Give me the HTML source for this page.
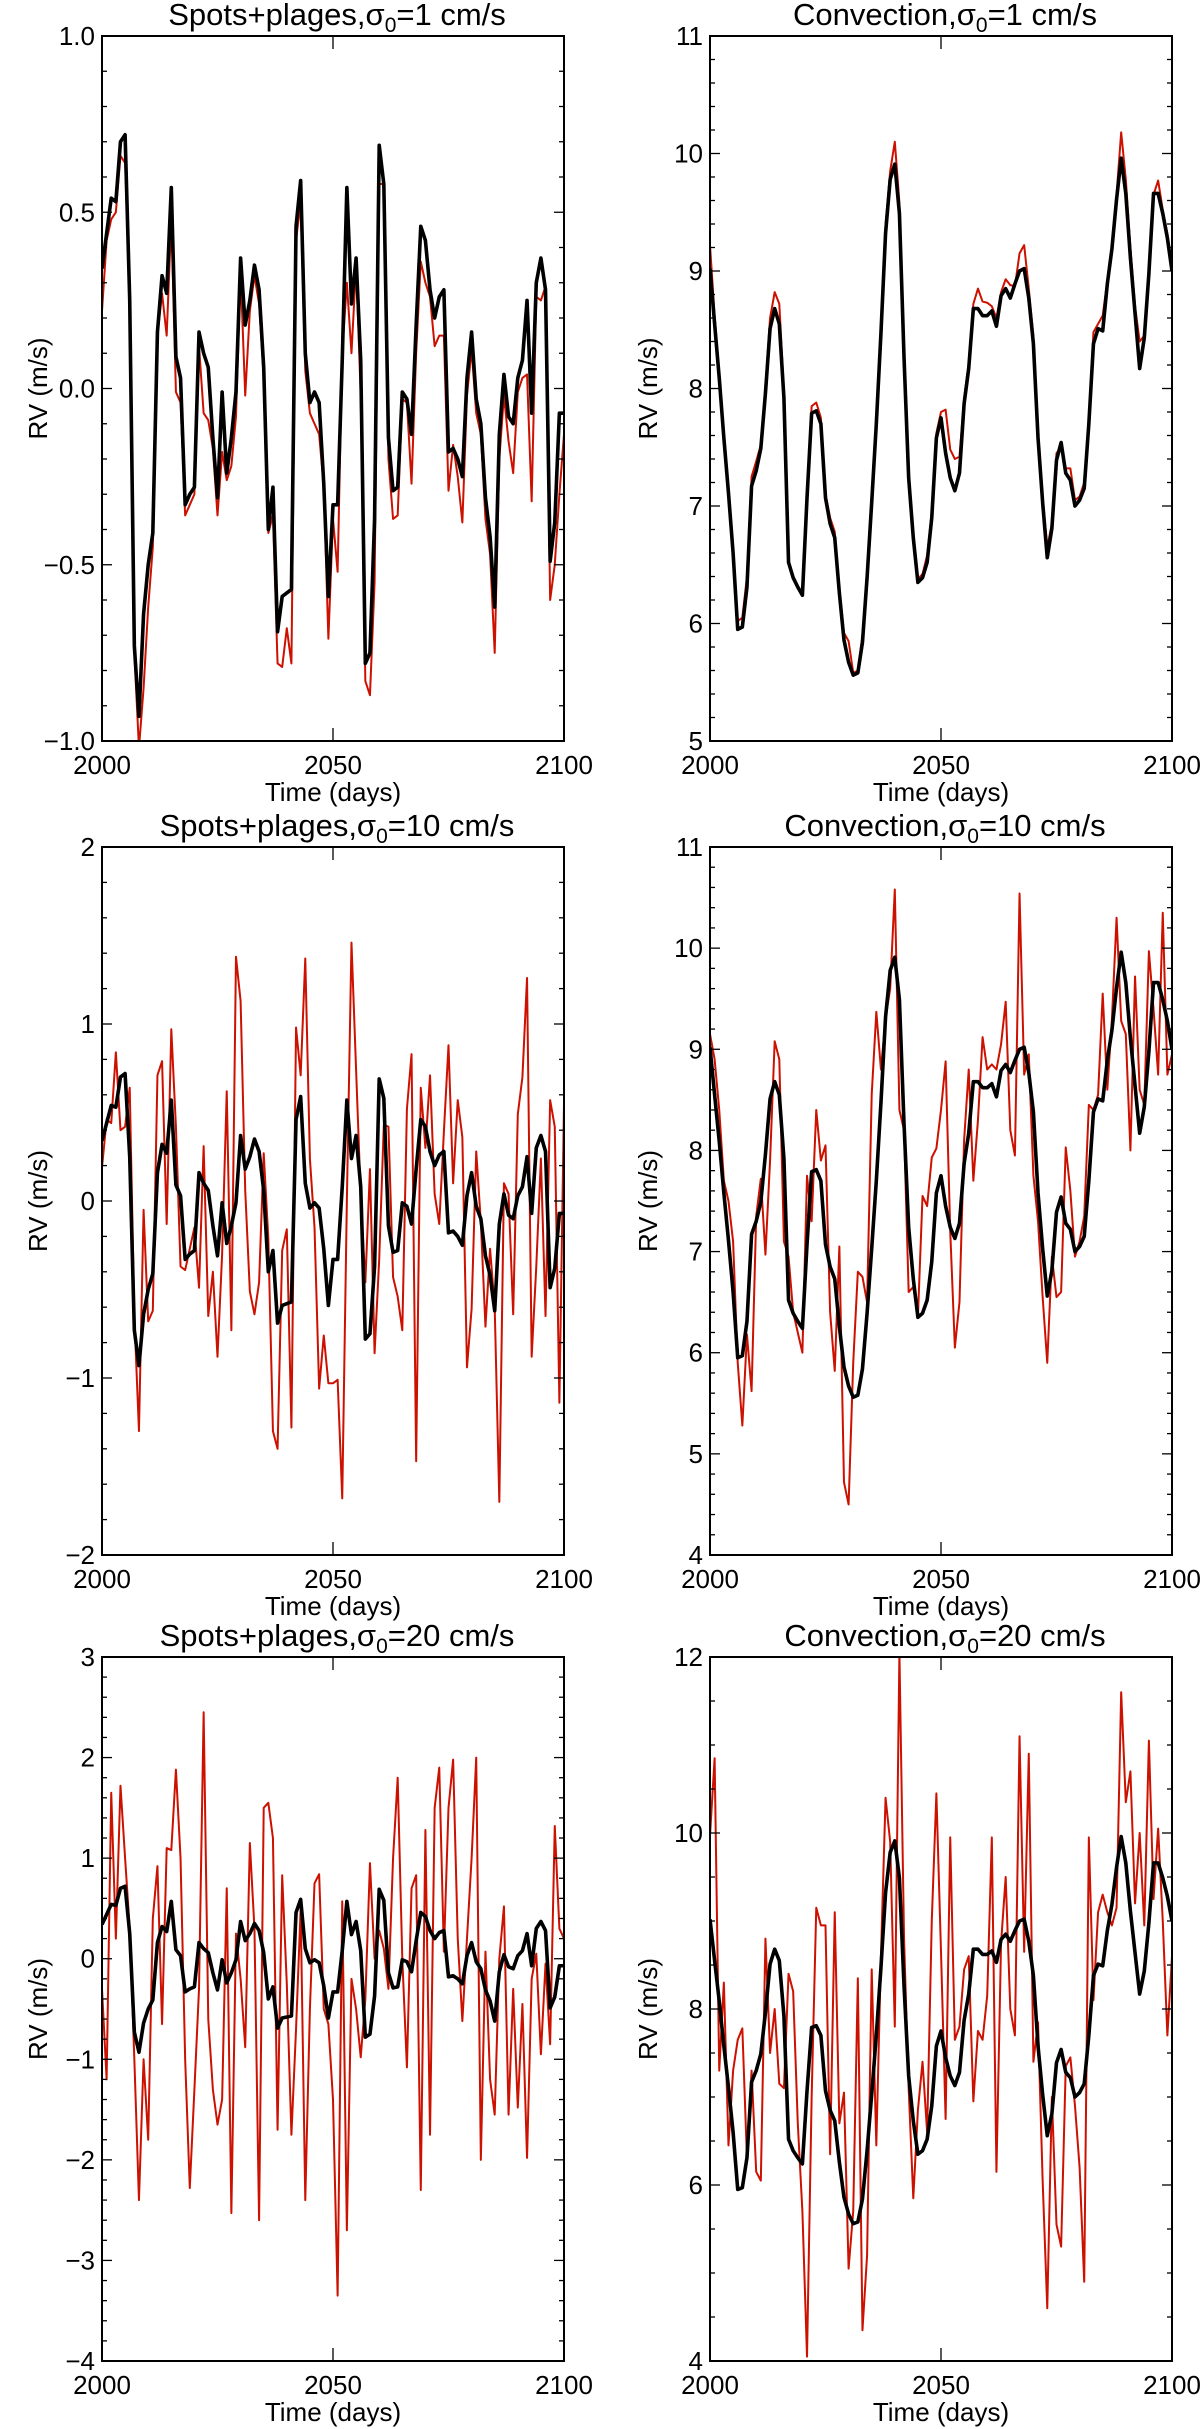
<!DOCTYPE html>
<html><head><meta charset="utf-8"><title>RV time series</title>
<style>
html,body{margin:0;padding:0;background:#fff;}
svg{display:block;}
text{font-family:"Liberation Sans",Arial,sans-serif;fill:#000;}
</style></head>
<body>
<svg id="fig" width="1200" height="2429" viewBox="0 0 1200 2429" xmlns="http://www.w3.org/2000/svg"></svg>
<script>
// ---- data (days 2000..2100) ----
const days = Array.from({length:101},(_,i)=>2000+i);
const spotsBlack = [0.34,0.44,0.54,0.53,0.70,0.72,0.25,-0.73,-0.93,-0.64,-0.50,-0.41,0.16,0.32,0.27,0.57,0.09,0.03,-0.33,-0.30,-0.28,0.16,0.10,0.06,-0.14,-0.31,-0.01,-0.24,-0.14,-0.01,0.37,0.18,0.25,0.35,0.28,0.06,-0.40,-0.28,-0.69,-0.59,-0.58,-0.57,0.46,0.59,0.10,-0.04,-0.01,-0.04,-0.27,-0.59,-0.33,-0.33,0.08,0.57,0.24,0.37,0.08,-0.78,-0.75,-0.37,0.69,0.58,-0.14,-0.29,-0.28,-0.01,-0.03,-0.13,0.18,0.46,0.42,0.28,0.20,0.26,0.28,-0.18,-0.17,-0.20,-0.25,0.03,0.16,-0.03,-0.10,-0.31,-0.42,-0.62,-0.13,0.04,-0.08,-0.10,0.03,0.08,0.25,-0.07,0.30,0.37,0.28,-0.49,-0.38,-0.07,-0.07];
const spotsRed1 = [0.22,0.42,0.48,0.50,0.66,0.64,0.25,-0.75,-1.02,-0.85,-0.62,-0.45,0.15,0.27,0.15,0.48,-0.01,-0.04,-0.36,-0.33,-0.30,0.12,-0.07,-0.09,-0.17,-0.36,-0.18,-0.26,-0.22,-0.08,0.33,-0.02,0.22,0.32,0.24,0.03,-0.41,-0.36,-0.78,-0.79,-0.68,-0.78,0.42,0.53,0.05,-0.07,-0.10,-0.13,-0.28,-0.71,-0.37,-0.52,0.10,0.30,0.10,0.35,-0.02,-0.83,-0.87,-0.55,0.58,0.58,-0.20,-0.37,-0.36,-0.03,-0.04,-0.27,0.10,0.36,0.30,0.26,0.12,0.15,0.15,-0.29,-0.16,-0.25,-0.38,-0.02,0.11,-0.07,-0.13,-0.37,-0.47,-0.75,-0.20,-0.02,-0.15,-0.24,-0.01,0.03,0.04,-0.32,0.26,0.25,0.29,-0.60,-0.50,-0.30,-0.13];
const spotsRed10 = [0.19,0.46,0.44,0.84,0.40,0.42,0.64,-0.65,-1.30,-0.05,-0.68,-0.62,0.71,0.79,-0.13,0.97,0.42,-0.37,-0.39,-0.27,-0.15,-0.49,0.31,-0.65,-0.40,-0.88,-0.30,0.62,-0.73,1.38,1.13,0.06,-0.51,-0.64,-0.46,0.27,-0.21,-1.30,-1.40,-0.28,-0.16,-1.28,0.98,0.71,1.37,0.24,-0.15,-1.06,-0.76,-1.03,-1.03,-1.01,-1.68,0.00,1.46,0.74,0.03,-0.46,0.18,-0.86,-0.33,0.43,0.42,-0.43,-0.54,-0.73,0.52,0.83,-1.47,0.64,0.30,0.71,0.04,-0.13,0.39,0.88,0.10,0.57,0.36,-0.94,-0.61,0.28,-0.12,-0.71,-0.27,-0.60,-1.70,0.10,0.04,-0.64,0.49,0.70,1.26,-0.88,-0.37,0.24,-0.65,0.57,0.42,-1.14,0.55];
const spotsRed20 = [-0.30,-1.20,1.65,0.20,1.72,1.00,0.30,-1.00,-2.40,-1.00,-1.80,0.40,0.92,-0.65,1.10,1.08,1.88,1.00,-1.00,-2.28,-1.30,-0.30,2.45,-0.60,-1.30,-1.65,-1.40,0.70,-2.53,0.25,-0.20,-0.88,1.15,0.30,-2.60,1.50,1.55,1.20,-1.70,0.83,-0.25,-1.75,-0.70,0.50,-2.40,-0.50,0.75,0.84,-0.50,-0.65,-1.40,-3.35,0.57,-2.70,-0.20,-0.50,-0.98,-0.40,0.95,0.00,0.28,0.10,-0.30,1.00,1.80,0.00,-1.08,0.70,0.83,-2.30,1.28,-1.75,1.50,1.90,0.07,1.50,1.98,0.20,-0.62,0.20,1.00,2.00,-2.00,0.07,-1.20,-1.55,0.00,0.52,-1.55,-0.30,-1.48,-0.45,-1.98,-0.20,0.05,-0.95,-0.05,-0.85,1.32,0.30,0.20];
const convBlack = [9.02,8.55,8.09,7.58,7.11,6.60,5.95,5.97,6.31,7.17,7.30,7.49,7.96,8.51,8.68,8.55,7.92,6.52,6.39,6.31,6.24,7.07,7.79,7.81,7.70,7.07,6.85,6.73,6.26,5.86,5.67,5.56,5.58,5.84,6.39,7.03,7.70,8.47,9.32,9.78,9.91,9.49,8.26,7.24,6.73,6.35,6.39,6.52,6.90,7.58,7.75,7.45,7.24,7.13,7.28,7.87,8.17,8.68,8.68,8.62,8.62,8.66,8.53,8.79,8.85,8.77,8.89,9.00,9.02,8.77,8.38,7.58,7.03,6.56,6.81,7.39,7.54,7.28,7.22,7.00,7.05,7.15,7.70,8.38,8.51,8.49,8.89,9.19,9.61,9.96,9.66,9.11,8.64,8.17,8.43,8.98,9.66,9.66,9.49,9.28,9.00];
const convRed1 = [9.22,8.62,8.12,7.60,7.12,6.62,6.02,6.05,6.40,7.25,7.38,7.52,8.02,8.60,8.82,8.72,7.98,6.52,6.40,6.32,6.26,7.10,7.85,7.88,7.75,7.10,6.90,6.78,6.30,5.92,5.85,5.58,5.60,5.90,6.45,7.08,7.75,8.52,9.40,9.85,10.10,9.58,8.30,7.28,6.76,6.38,6.42,6.58,6.95,7.62,7.80,7.82,7.48,7.40,7.42,7.92,8.22,8.72,8.85,8.74,8.73,8.70,8.60,8.82,8.93,8.88,8.87,9.15,9.22,8.85,8.45,7.62,7.08,6.65,6.85,7.45,7.50,7.32,7.32,7.05,7.08,7.20,7.75,8.48,8.55,8.62,8.92,9.22,9.65,10.18,9.78,9.20,8.70,8.40,8.45,9.02,9.65,9.77,9.52,9.32,9.05];
const convRed10 = [9.15,8.90,8.40,7.70,7.50,7.10,5.90,5.28,6.18,5.62,7.35,7.72,6.97,7.90,9.08,8.90,7.10,6.95,6.40,6.20,6.00,7.75,7.30,8.40,7.90,8.05,6.40,5.82,7.05,4.72,4.50,5.90,6.80,6.75,6.50,8.55,9.37,8.80,9.30,9.60,10.58,8.40,8.20,6.60,6.65,6.35,7.55,7.45,7.93,8.02,8.40,8.88,7.20,6.05,6.50,8.10,8.80,7.70,8.30,9.12,8.80,8.85,8.80,9.05,9.47,8.20,7.95,10.54,8.75,8.95,7.75,7.30,6.55,5.90,6.95,6.55,6.60,8.03,7.60,6.95,7.10,7.35,8.45,8.40,8.55,9.55,8.60,9.30,10.30,9.28,9.15,8.00,9.72,8.60,8.45,9.97,9.40,8.75,10.35,8.75,8.95];
const convRed20 = [9.97,10.85,7.30,8.30,6.45,7.30,7.65,7.78,6.30,7.30,6.15,6.05,8.80,7.50,8.00,7.15,7.10,8.40,8.20,6.70,5.70,4.05,7.00,9.15,8.95,8.95,6.35,9.10,6.70,7.05,5.05,5.70,8.35,4.35,5.20,8.45,6.45,8.60,10.40,9.90,7.80,12.05,8.80,7.10,5.85,6.85,7.40,6.60,9.00,10.45,8.65,6.75,9.95,7.65,7.80,8.45,8.60,6.95,7.75,7.65,8.15,9.95,6.15,8.75,9.50,8.00,7.70,11.10,8.65,10.90,7.40,7.85,6.05,4.60,7.00,5.55,5.30,7.35,7.45,6.90,6.20,4.90,9.95,8.10,9.10,9.30,9.10,8.95,9.15,11.60,10.35,10.70,9.20,10.00,8.95,11.05,9.25,10.05,9.00,7.70,8.60];
const xTicks = [2000,2050,2100];
const yTicks1L = ["-1.0","-0.5","0.0","0.5","1.0"];
const yTicks1R = [5,6,7,8,9,10,11];
const yTicks2L = [-2,-1,0,1,2];
const yTicks2R = [4,5,6,7,8,9,10,11];
const yTicks3L = [-4,-3,-2,-1,0,1,2,3];
const yTicks3R = [4,6,8,10,12];

const NS='http://www.w3.org/2000/svg';
const svg=document.getElementById('fig');
function mk(tag,attrs,parent){const e=document.createElementNS(NS,tag);for(const k in attrs)e.setAttribute(k,attrs[k]);(parent||svg).appendChild(e);return e;}

const cols=[{x0:102,x1:564,ylab:38},{x0:710,x1:1172,ylab:648}];
const rows=[{y0:36,y1:741},{y0:847,y1:1555},{y0:1657,y1:2361}];
const panels=[
 {r:0,c:0,kind:'Spots+plages',sig:'1',ymin:-1,ymax:1,ticks:yTicks1L,minor:0.1,black:spotsBlack,red:spotsRed1,name:'spots-1'},
 {r:0,c:1,kind:'Convection',sig:'1',ymin:5,ymax:11,ticks:yTicks1R,minor:0.2,black:convBlack,red:convRed1,name:'convection-1'},
 {r:1,c:0,kind:'Spots+plages',sig:'10',ymin:-2,ymax:2,ticks:yTicks2L,minor:0.2,black:spotsBlack,red:spotsRed10,name:'spots-10'},
 {r:1,c:1,kind:'Convection',sig:'10',ymin:4,ymax:11,ticks:yTicks2R,minor:0.2,black:convBlack,red:convRed10,name:'convection-10'},
 {r:2,c:0,kind:'Spots+plages',sig:'20',ymin:-4,ymax:3,ticks:yTicks3L,minor:0.2,black:spotsBlack,red:spotsRed20,name:'spots-20'},
 {r:2,c:1,kind:'Convection',sig:'20',ymin:4,ymax:12,ticks:yTicks3R,minor:0.5,black:convBlack,red:convRed20,name:'convection-20'}
];

panels.forEach(p=>{
  const C=cols[p.c],R=rows[p.r];
  const g=mk('g',{});
  
  
  const xs=v=>C.x0+(v-2000)/100*(C.x1-C.x0);
  const ys=v=>R.y1-(v-p.ymin)/(p.ymax-p.ymin)*(R.y1-R.y0);
  const clipId='clip-'+p.name;
  const cp=mk('clipPath',{id:clipId},g);
  mk('rect',{x:C.x0,y:R.y0,width:C.x1-C.x0,height:R.y1-R.y0},cp);
  // title
  const t=mk('text',{x:(C.x0+C.x1)/2+4,y:R.y0-11,'text-anchor':'middle','font-size':31},g);
  
  
  t.appendChild(document.createTextNode(p.kind+',\u03c3'));
  const sub=mk('tspan',{'font-size':21,dy:7},t);sub.textContent='0';
  const rest=mk('tspan',{dy:-7},t);rest.textContent='='+p.sig+' cm/s';
  // series
  const linePts=arr=>arr.map((v,i)=>xs(days[i]).toFixed(2)+','+ys(v).toFixed(2)).join(' ');
  const red=mk('polyline',{points:linePts(p.red),fill:'none',stroke:'#cc1100','stroke-width':2,'stroke-linejoin':'round','clip-path':'url(#'+clipId+')'},g);
  
  
  const blk=mk('polyline',{points:linePts(p.black),fill:'none',stroke:'#000','stroke-width':3.6,'stroke-linejoin':'round','clip-path':'url(#'+clipId+')'},g);
  
  
  // frame
  const fr=mk('rect',{x:C.x0,y:R.y0,width:C.x1-C.x0,height:R.y1-R.y0,fill:'none',stroke:'#000','stroke-width':2},g);
  
  
  // y ticks
  const tv=p.ticks.map(Number);
  const step=tv[1]-tv[0];
  const n=Math.round((p.ymax-p.ymin)/p.minor);
  for(let k=0;k<=n;k++){
    const v=p.ymin+k*p.minor;const y=ys(v);
    const major=Math.abs(((v-tv[0])/step)-Math.round((v-tv[0])/step))<1e-6;
    const L=major?10:5;
    mk('line',{x1:C.x0,x2:C.x0+L,y1:y,y2:y,stroke:'#000','stroke-width':1.3},g);
    mk('line',{x1:C.x1,x2:C.x1-L,y1:y,y2:y,stroke:'#000','stroke-width':1.3},g);
  }
  p.ticks.forEach(lbl=>{
    const tl=mk('text',{x:C.x0-7,y:ys(Number(lbl))+9,'text-anchor':'end','font-size':26},g);
    
    
    tl.textContent=String(lbl).replace('-','\u2212');
  });
  // x ticks
  xTicks.forEach(v=>{
    const x=xs(v);
    mk('line',{x1:x,x2:x,y1:R.y1,y2:R.y1-13,stroke:'#000','stroke-width':1.3},g);
    mk('line',{x1:x,x2:x,y1:R.y0,y2:R.y0+13,stroke:'#000','stroke-width':1.3},g);
    const xl=mk('text',{x:x,y:R.y1+33,'text-anchor':'middle','font-size':26},g);
    
    
    xl.textContent=v;
  });
  const xt=mk('text',{x:(C.x0+C.x1)/2,y:R.y1+60,'text-anchor':'middle','font-size':26},g);
  
  
  xt.textContent='Time (days)';
  const cy=(R.y0+R.y1)/2;
  const yt=mk('text',{x:C.ylab,y:cy,'text-anchor':'middle','font-size':26,transform:'rotate(-90 '+C.ylab+' '+cy+')',dy:9},g);
  
  
  yt.textContent='RV (m/s)';
});
</script>
</body></html>
